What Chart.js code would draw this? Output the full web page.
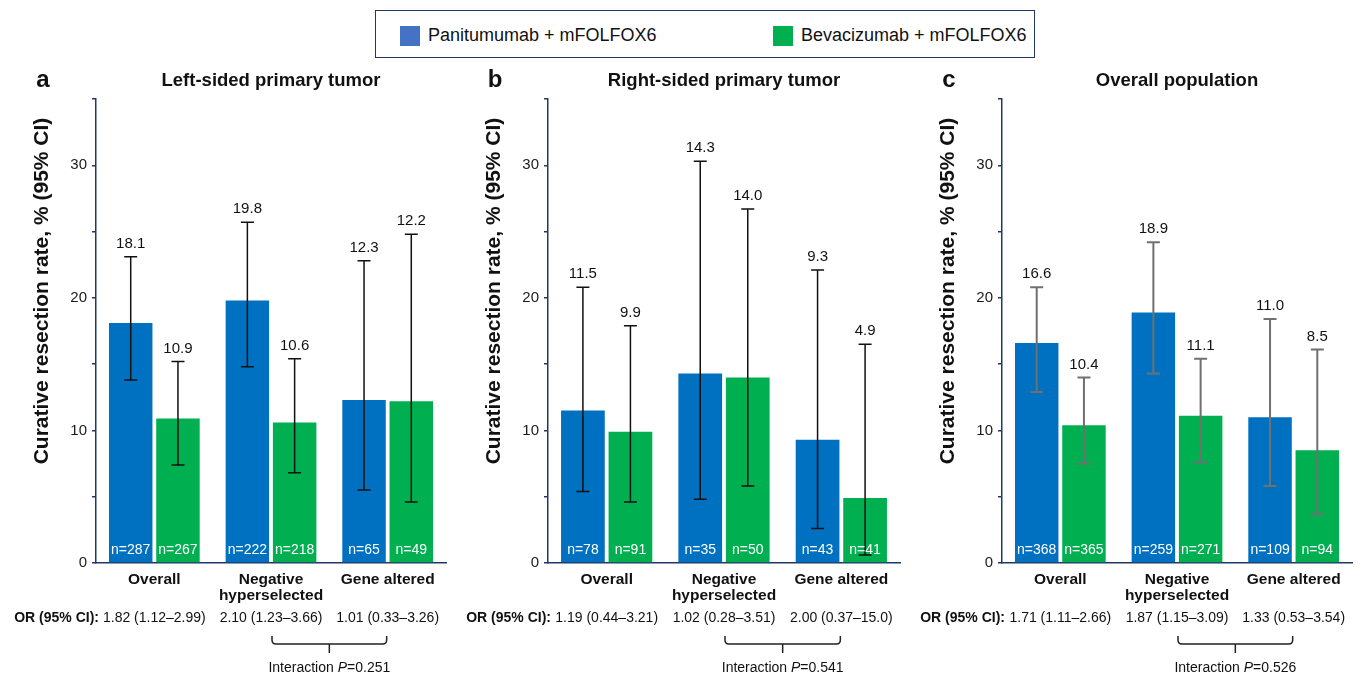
<!DOCTYPE html>
<html>
<head>
<meta charset="utf-8">
<script src="https://cdn.jsdelivr.net/npm/chart.js@4.4.0/dist/chart.umd.min.js"></script>
<style>
  html, body { margin: 0; padding: 0; background: #fff; }
  #wrap { position: relative; width: 1362px; height: 680px; overflow: hidden; font-family: "Liberation Sans", Arial, sans-serif; }
  canvas.panel { position: absolute; left: 0; top: 0; }
  #legend { position: absolute; left: 375px; top: 10px; width: 660px; height: 48px; box-sizing: border-box;
            border: 1.5px solid #1F3864; }
  .li { position: absolute; top: 2px; height: 45px; display: flex; align-items: center; font-size: 18px; color: #111; white-space: nowrap; }
  .sw { width: 20px; height: 20px; margin-right: 8px; flex: none; }
</style>
</head>
<body>
<div id="wrap">
  <div id="legend">
    <div class="li" style="left:24px"><span class="sw" style="background:#4472C4"></span>Panitumumab + mFOLFOX6</div>
    <div class="li" style="left:397px"><span class="sw" style="background:#00B050"></span>Bevacizumab + mFOLFOX6</div>
  </div>
  <canvas class="panel" id="cA" width="1362" height="680"></canvas>
  <canvas class="panel" id="cB" width="1362" height="680"></canvas>
  <canvas class="panel" id="cC" width="1362" height="680"></canvas>
</div>
<script>
// ---------------- DATA ----------------
const categories = [['Overall'], ['Negative', 'hyperselected'], ['Gene altered']];
const seriesNames = ['Panitumumab + mFOLFOX6', 'Bevacizumab + mFOLFOX6'];
const yTicks = [0, 10, 20, 30];

// Panel a: Left-sided primary tumor
const leftPani = [18.1, 19.8, 12.3];
const leftPaniLo = [13.8, 14.8, 5.5];
const leftPaniHi = [23.1, 25.7, 22.8];
const leftBeva = [10.9, 10.6, 12.2];
const leftBevaLo = [7.4, 6.8, 4.6];
const leftBevaHi = [15.2, 15.4, 24.8];
const leftNPani = [287, 222, 65];
const leftNBeva = [267, 218, 49];
const leftOR = ['1.82 (1.12–2.99)', '2.10 (1.23–3.66)', '1.01 (0.33–3.26)'];
const leftP = '0.251';

// Panel b: Right-sided primary tumor
const rightPani = [11.5, 14.3, 9.3];
const rightPaniLo = [5.4, 4.8, 2.6];
const rightPaniHi = [20.8, 30.3, 22.1];
const rightBeva = [9.9, 14.0, 4.9];
const rightBevaLo = [4.6, 5.8, 0.6];
const rightBevaHi = [17.9, 26.7, 16.5];
const rightNPani = [78, 35, 43];
const rightNBeva = [91, 50, 41];
const rightOR = ['1.19 (0.44–3.21)', '1.02 (0.28–3.51)', '2.00 (0.37–15.0)'];
const rightP = '0.541';

// Panel c: Overall population
const allPani = [16.6, 18.9, 11.0];
const allPaniLo = [12.9, 14.3, 5.8];
const allPaniHi = [20.8, 24.2, 18.4];
const allBeva = [10.4, 11.1, 8.5];
const allBevaLo = [7.5, 7.6, 3.7];
const allBevaHi = [14.0, 15.4, 16.1];
const allNPani = [368, 259, 109];
const allNBeva = [365, 271, 94];
const allOR = ['1.71 (1.11–2.66)', '1.87 (1.15–3.09)', '1.33 (0.53–3.54)'];
const allP = '0.526';

// ---------------- STYLE / LAYOUT ----------------
const FONT = '"Liberation Sans", Arial, sans-serif';
const NAVY = '#1F3864';
const BLUE = '#0070C0';
const GREEN = '#00B050';
const AREA_TOP = 99, AREA_BOTTOM = 563, W = 1362, H = 680;

const panels = [
  { id: 'cA', letter: 'a', title: 'Left-sided primary tumor', left: 96, right: 446,
    pani: leftPani, paniLo: leftPaniLo, paniHi: leftPaniHi, beva: leftBeva, bevaLo: leftBevaLo, bevaHi: leftBevaHi,
    nPani: leftNPani, nBeva: leftNBeva, or: leftOR, p: leftP, errColor: '#111', errWidth: 1.5 },
  { id: 'cB', letter: 'b', title: 'Right-sided primary tumor', left: 548, right: 900,
    pani: rightPani, paniLo: rightPaniLo, paniHi: rightPaniHi, beva: rightBeva, bevaLo: rightBevaLo, bevaHi: rightBevaHi,
    nPani: rightNPani, nBeva: rightNBeva, or: rightOR, p: rightP, errColor: '#111', errWidth: 1.5 },
  { id: 'cC', letter: 'c', title: 'Overall population', left: 1002, right: 1352,
    pani: allPani, paniLo: allPaniLo, paniHi: allPaniHi, beva: allBeva, bevaLo: allBevaLo, bevaHi: allBevaHi,
    nPani: allNPani, nBeva: allNBeva, or: allOR, p: allP, errColor: '#707070', errWidth: 2 }
];

const Y_AXIS_W = 60;

const annotate = {
  id: 'annotate',
  afterDatasetsDraw(chart, args, opts) {
    const P = opts.panel;
    const ctx = chart.ctx;
    const ys = chart.scales.y, xs = chart.scales.x;
    const area = chart.chartArea;
    ctx.save();
    // error bars + labels
    const lows = [P.paniLo, P.bevaLo], highs = [P.paniHi, P.bevaHi], ns = [P.nPani, P.nBeva];
    chart.data.datasets.forEach((ds, di) => {
      const meta = chart.getDatasetMeta(di);
      meta.data.forEach((bar, i) => {
        const x = bar.x;
        const yLo = ys.getPixelForValue(lows[di][i]);
        const yHi = ys.getPixelForValue(highs[di][i]);
        ctx.strokeStyle = P.errColor;
        ctx.lineWidth = P.errWidth;
        ctx.beginPath();
        ctx.moveTo(x, yLo); ctx.lineTo(x, yHi);
        ctx.moveTo(x - 6.5, yLo); ctx.lineTo(x + 6.5, yLo);
        ctx.moveTo(x - 6.5, yHi); ctx.lineTo(x + 6.5, yHi);
        ctx.stroke();
        ctx.fillStyle = '#111';
        ctx.font = '15px ' + FONT;
        ctx.textAlign = 'center';
        ctx.textBaseline = 'middle';
        ctx.fillText(ds.data[i].toFixed(1), x, yHi - 13);
        ctx.fillStyle = '#fff';
        ctx.font = '14px ' + FONT;
        ctx.fillText('n=' + ns[di][i], x, 550);
      });
    });
    // titles
    ctx.fillStyle = '#111';
    ctx.textBaseline = 'middle';
    ctx.textAlign = 'center';
    ctx.font = 'bold 18.5px ' + FONT;
    ctx.fillText(P.title, (area.left + area.right) / 2, 81);
    ctx.font = 'bold 24px ' + FONT;
    ctx.fillText(P.letter, area.left - 53, 80);
    // y axis title
    ctx.save();
    ctx.translate(area.left - 54, 291);
    ctx.rotate(-Math.PI / 2);
    ctx.font = 'bold 21px ' + FONT;
    ctx.fillText('Curative resection rate, % (95% CI)', 0, 0);
    ctx.restore();
    // category labels + OR row
    const centers = categories.map((c, i) => xs.getPixelForValue(i));
    categories.forEach((lines, i) => {
      ctx.font = 'bold 15.5px ' + FONT;
      lines.forEach((ln, k) => ctx.fillText(ln, centers[i], 580 + k * 16));
      ctx.font = '14px ' + FONT;
      ctx.fillText(P.or[i], centers[i], 618);
    });
    ctx.font = 'bold 14px ' + FONT;
    ctx.textAlign = 'right';
    ctx.fillText('OR (95% CI):', area.left + 3, 618);
    // bracket
    const x1 = centers[1] + 1, x2 = centers[2] - 1, xm = (x1 + x2) / 2;
    const yt = 636, yb = 644, r = 4;
    ctx.strokeStyle = '#222';
    ctx.lineWidth = 1.5;
    ctx.beginPath();
    ctx.moveTo(x1, yt); ctx.lineTo(x1, yb - r); ctx.quadraticCurveTo(x1, yb, x1 + r, yb);
    ctx.lineTo(x2 - r, yb); ctx.quadraticCurveTo(x2, yb, x2, yb - r); ctx.lineTo(x2, yt);
    ctx.moveTo(xm, yb); ctx.lineTo(xm, 653);
    ctx.stroke();
    // interaction P
    ctx.font = '14px ' + FONT;
    const t1 = 'Interaction ', t3 = '=' + P.p;
    const w1 = ctx.measureText(t1).width, w3 = ctx.measureText(t3).width;
    ctx.font = 'italic 14px ' + FONT;
    const w2 = ctx.measureText('P').width;
    let sx = xm - (w1 + w2 + w3) / 2;
    ctx.textAlign = 'left';
    ctx.font = '14px ' + FONT;
    ctx.fillText(t1, sx, 668);
    ctx.font = 'italic 14px ' + FONT;
    ctx.fillText('P', sx + w1, 668);
    ctx.font = '14px ' + FONT;
    ctx.fillText(t3, sx + w1 + w2, 668);
    ctx.restore();
  }
};

panels.forEach(P => {
  new Chart(document.getElementById(P.id), {
    type: 'bar',
    data: {
      labels: categories,
      datasets: [
        { label: seriesNames[0], data: P.pani, backgroundColor: BLUE, borderWidth: 0 },
        { label: seriesNames[1], data: P.beva, backgroundColor: GREEN, borderWidth: 0 }
      ]
    },
    options: {
      responsive: false,
      animation: false,
      events: [],
      categoryPercentage: 0.81,
      barPercentage: 0.92,
      layout: { padding: { left: P.left - Y_AXIS_W, right: W - P.right, top: AREA_TOP, bottom: H - AREA_BOTTOM } },
      plugins: {
        legend: { display: false },
        tooltip: { enabled: false },
        annotate: { panel: P }
      },
      scales: {
        x: {
          ticks: { display: false },
          grid: { display: true, drawOnChartArea: false, drawTicks: false, color: 'rgba(0,0,0,0)' },
          border: { display: true, color: NAVY, width: 1.5 },
          afterFit: s => { s.height = 0; }
        },
        y: {
          min: 0, max: 35,
          afterFit: s => { s.width = Y_AXIS_W; },
          afterBuildTicks: s => {
            const t = [];
            for (let v = 0; v <= 35; v += 5) t.push({ value: v });
            s.ticks = t;
          },
          ticks: {
            callback: v => yTicks.includes(v) ? String(v) : '',
            font: { size: 15, family: FONT },
            color: '#1a1a1a',
            padding: 5
          },
          grid: { display: true, drawOnChartArea: false, drawTicks: true, tickLength: 4, color: NAVY, lineWidth: 1.5 },
          border: { display: true, color: NAVY, width: 1.5 }
        }
      }
    },
    plugins: [annotate]
  });
});
</script>
</body>
</html>
